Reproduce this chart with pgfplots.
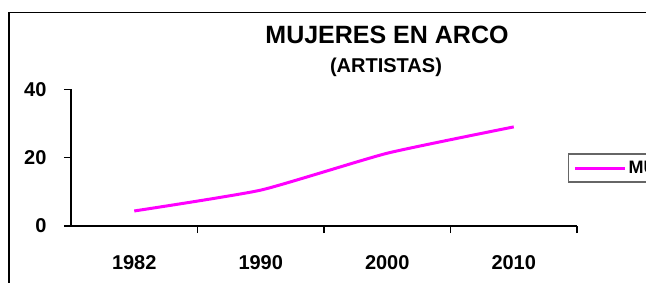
\documentclass[border=0pt]{standalone}
\usepackage{pgfplots}
\pgfplotsset{compat=1.18}
\usepackage{fontspec}
\setmainfont{Liberation Sans}
\begin{document}
\begin{tikzpicture}[x=1pt,y=1pt]
\clip (0,0) rectangle (646,282);
\fill[white] (0,0) rectangle (646,282);
\draw[line width=1.5pt] (9,269.5) rectangle (720,-40);
\node[font=\fontsize{25}{28}\selectfont\bfseries] at (387,247) {MUJERES EN ARCO};
\node[font=\fontsize{20}{23}\selectfont\bfseries] at (386,215) {(ARTISTAS)};
\begin{axis}[
  at={(71pt,56pt)}, anchor=south west,
  scale only axis, width=506pt, height=136.7pt,
  xmin=-0.5, xmax=3.5, ymin=0, ymax=40,
  axis lines*=left,
  axis line style={line width=1.3pt, black},
  xtick={0.5,1.5,2.5,3.5}, xticklabels={},
  extra x ticks={0,1,2,3}, extra x tick labels={1982,1990,2000,2010},
  extra x tick style={major tick length=0pt},
  ytick={0,20,40},
  tick align=outside,
  major tick length=7pt,
  tick style={line width=1.3pt, black},
  yticklabel style={font=\fontsize{20}{22}\selectfont\bfseries, xshift=-14pt},
  xticklabel style={font=\fontsize{20}{22}\selectfont\bfseries, yshift=-26pt},
  /pgf/number format/assume math mode=true,
  clip=false,
  legend style={at={(0.982,0.424)}, anchor=west, draw=gray!80!black, line width=1.5pt,
    font=\fontsize{18}{20}\selectfont\bfseries, inner sep=5pt},
  legend image code/.code={\draw[#1] (0pt,0pt) -- (50pt,0pt);},
]
\addplot[color={rgb,255:red,255;green,0;blue,255}, line width=3pt, smooth, tension=0.3] coordinates {(0,4.4) (1,10.5) (2,21.3) (3,29)};
\addlegendentry{MUJERES}
\end{axis}
\end{tikzpicture}
\end{document}
